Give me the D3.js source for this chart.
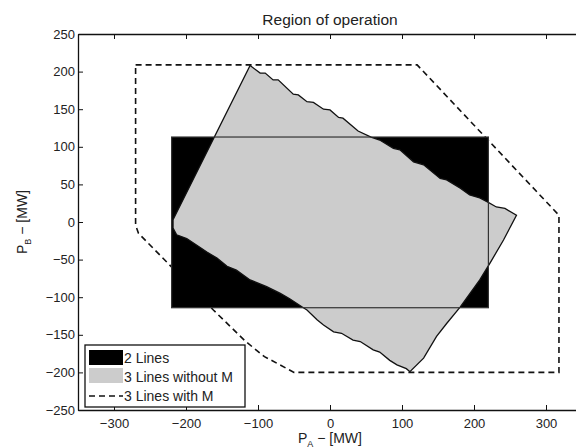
<!DOCTYPE html>
<meta charset="utf-8">
<style>
body { margin: 0; background: #fff; }
text { font-family: "Liberation Sans", Arial, sans-serif; fill: #222; }
.tick text { font-size: 13px; }
</style>
<body>
<svg id="chart" width="576" height="448"></svg>
<script src="https://d3js.org/d3.v7.min.js"></script>
<script>
// values (MW)
var xTicks = [-300, -200, -100, 0, 100, 200, 300];
var yTicks = [-250, -200, -150, -100, -50, 0, 50, 100, 150, 200, 250];

// 2 Lines : rectangle [xmin, xmax, ymin, ymax]
var twoLines = [-220, 220, -114, 113];

// 3 Lines without M : staircase polygon
var withoutM = [
  [-111, 208], [-97, 198], [-90, 198], [-79, 189], [-72, 189], [-51, 170], [-44, 169],
  [-32, 160], [-23, 159], [-9, 150], [0, 149], [12, 139], [18, 138], [39, 121], [57, 113],
  [69, 109], [88, 98], [97, 96], [116, 80], [130, 76], [153, 58], [162, 56], [181, 45],
  [194, 36], [208, 32], [218, 27], [231, 20], [243, 18], [259, 9],
  [241, -24], [222, -55], [208, -77], [181, -113], [162, -135], [148, -152], [130, -181], [111, -199],
  [106, -195], [93, -190], [83, -184], [69, -173], [60, -170], [42, -159], [32, -157],
  [16, -148], [5, -146], [-9, -137], [-18, -130], [-32, -117], [-37, -114], [-56, -102],
  [-69, -95], [-88, -86], [-111, -77], [-130, -64], [-143, -59], [-157, -48], [-171, -40],
  [-185, -31], [-199, -22], [-213, -17], [-218, -8], [-218, 3]
];

// 3 Lines with M : dashed boundary
var withM = [
  [-270, 209], [121, 209], [318, 9], [318, -200], [-50, -200], [-91, -179],
  [-117, -159], [-162, -117], [-225, -55], [-266, -15], [-270, -4]
];

var legendItems = ['2 Lines', '3 Lines without M', '3 Lines with M'];

var margin = {top: 34, left: 78},
    width = 504, height = 376;

var svg = d3.select('#chart')
  .append('g')
    .attr('transform', 'translate(' + margin.left + ',' + margin.top + ')');

var xScale = d3.scaleLinear().domain([-350, 350]).range([0, width]);
var yScale = d3.scaleLinear().domain([-250, 250]).range([height, 0]);

var line = d3.line()
  .x(function(d) { return xScale(d[0]); })
  .y(function(d) { return yScale(d[1]); });

// dashed region
svg.append('path')
  .datum(withM)
  .attr('d', function(d) { return line(d) + 'Z'; })
  .attr('fill', 'none')
  .attr('stroke', '#111')
  .attr('stroke-width', 1.6)
  .attr('stroke-dasharray', '6,4');

// black rectangle
svg.append('rect')
  .attr('x', xScale(twoLines[0]))
  .attr('y', yScale(twoLines[3]))
  .attr('width', xScale(twoLines[1]) - xScale(twoLines[0]))
  .attr('height', yScale(twoLines[2]) - yScale(twoLines[3]))
  .attr('fill', '#000');

// gray region
svg.append('path')
  .datum(withoutM)
  .attr('d', function(d) { return line(d) + 'Z'; })
  .attr('fill', '#cccccc')
  .attr('stroke', '#111')
  .attr('stroke-width', 1.3);

// rectangle outline on top
svg.append('rect')
  .attr('x', xScale(twoLines[0]))
  .attr('y', yScale(twoLines[3]))
  .attr('width', xScale(twoLines[1]) - xScale(twoLines[0]))
  .attr('height', yScale(twoLines[2]) - yScale(twoLines[3]))
  .attr('fill', 'none')
  .attr('stroke', '#333')
  .attr('stroke-width', 1.2);

// axes, matlab style: inward ticks on all sides
function fmt(d) { return d < 0 ? '\u2212' + (-d) : '' + d; }

svg.append('g')
  .attr('transform', 'translate(0,' + height + ')')
  .call(d3.axisBottom(xScale).tickValues(xTicks).tickSizeInner(-5).tickSizeOuter(0).tickPadding(9).tickFormat(fmt));
svg.append('g')
  .call(d3.axisTop(xScale).tickValues(xTicks).tickSizeInner(-5).tickSizeOuter(0).tickFormat(''));
svg.append('g')
  .call(d3.axisLeft(yScale).tickValues(yTicks).tickSizeInner(-5).tickSizeOuter(0).tickPadding(3).tickFormat(fmt));
svg.append('g')
  .attr('transform', 'translate(' + width + ',0)')
  .call(d3.axisRight(yScale).tickValues(yTicks).tickSizeInner(-5).tickSizeOuter(0).tickFormat(''));
svg.selectAll('.domain').attr('stroke', '#111').attr('stroke-width', 1.3);
svg.selectAll('.tick line').attr('stroke', '#111');

// title and axis labels
svg.append('text')
  .attr('x', width / 2).attr('y', -9.5)
  .attr('text-anchor', 'middle')
  .style('font-size', '15.5px')
  .text('Region of operation');

var xl = svg.append('text')
  .attr('x', width / 2).attr('y', height + 33)
  .attr('text-anchor', 'middle')
  .style('font-size', '14px');
xl.append('tspan').text('P');
xl.append('tspan').attr('dy', 4).style('font-size', '9px').text('A');
xl.append('tspan').attr('dy', -4).text(' \u2212 [MW]');

var yl = svg.append('text')
  .attr('transform', 'translate(-51,' + (height / 2) + ') rotate(-90)')
  .attr('text-anchor', 'middle')
  .style('font-size', '14px');
yl.append('tspan').text('P');
yl.append('tspan').attr('dy', 4).style('font-size', '9px').text('B');
yl.append('tspan').attr('dy', -4).text(' \u2212 [MW]');

// legend
var lg = svg.append('g').attr('transform', 'translate(7,311)');
lg.append('rect')
  .attr('width', 160).attr('height', 62)
  .attr('fill', '#fff').attr('stroke', '#111').attr('stroke-width', 1.3);
lg.append('rect').attr('x', 4).attr('y', 5).attr('width', 34).attr('height', 15).attr('fill', '#000');
lg.append('rect').attr('x', 4).attr('y', 23).attr('width', 34).attr('height', 15).attr('fill', '#cccccc');
lg.append('line').attr('x1', 4).attr('x2', 38).attr('y1', 51).attr('y2', 51)
  .attr('stroke', '#111').attr('stroke-width', 1.6).attr('stroke-dasharray', '6,4');
lg.selectAll('text.item')
  .data(legendItems)
  .enter().append('text')
    .attr('class', 'item')
    .attr('x', 39)
    .attr('y', function(d, i) { return 18 + i * 18.8; })
    .style('font-size', '14px')
    .text(function(d) { return d; });
</script>
</body>
